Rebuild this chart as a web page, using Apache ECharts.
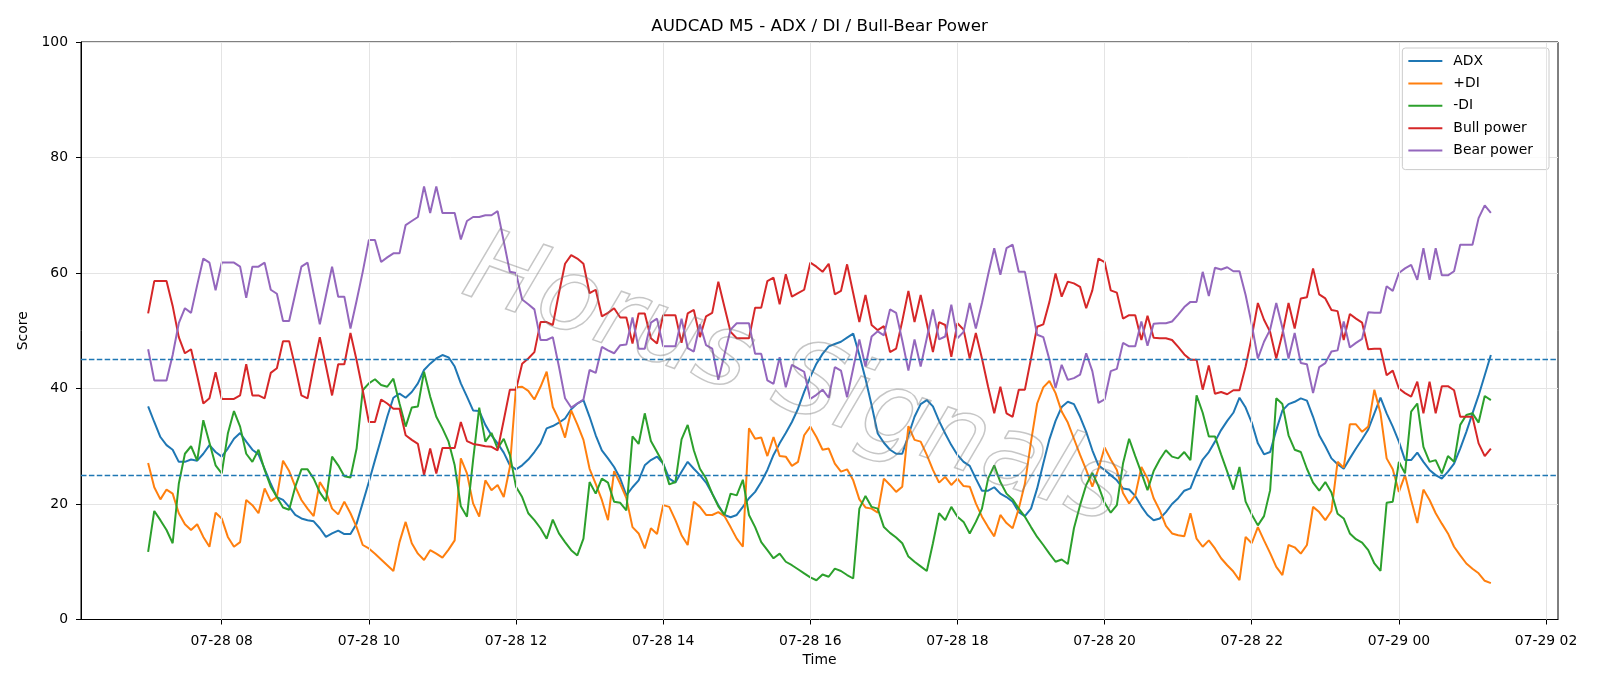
<!DOCTYPE html>
<html><head><meta charset="utf-8">
<script src="https://cdn.jsdelivr.net/npm/echarts@6/dist/echarts.min.js"></script>
<style>html,body{margin:0;padding:0;background:#fff}#chart{width:1600px;height:686px}</style>
</head><body><div id="chart"></div>
<script>
// Time grid: M5 bars from 07-28 07:00, minutes since 07-28 00:00
const START_MINUTE = 420;
const STEP_MINUTES = 5;

const adx = [36.9,34.2,31.6,30.2,29.4,27.3,27.3,27.7,27.5,28.7,30.2,29.0,28.2,29.6,31.3,32.3,30.8,29.4,28.6,26.1,
23.5,21.2,20.7,19.5,18.1,17.5,17.2,17.0,15.8,14.3,14.9,15.4,14.8,14.8,16.6,20.2,23.8,27.6,31.3,35.1,
38.4,39.1,38.4,39.4,40.9,43.2,44.3,45.2,45.8,45.4,43.8,40.9,38.6,36.2,36.1,33.7,31.9,30.5,28.9,26.7,
26.0,26.7,27.7,29.0,30.5,33.1,33.5,34.1,34.8,36.4,37.4,38.0,35.1,31.9,29.3,27.9,26.4,24.4,21.5,22.9,
24.1,26.7,27.6,28.2,27.0,24.4,23.7,25.6,27.3,26.1,25.0,23.7,21.8,19.8,18.1,17.7,18.1,19.5,21.0,22.1,
23.8,25.9,28.5,30.5,32.3,34.2,36.5,39.4,42.0,44.3,46.0,47.3,47.7,48.1,48.8,49.5,45.8,41.7,37.1,32.2,
30.6,29.4,28.7,28.7,31.9,35.1,37.3,38.0,36.9,34.4,32.2,30.2,28.5,27.3,26.6,24.4,22.3,22.3,22.9,21.8,
21.2,20.4,18.6,17.9,19.2,22.7,27.0,31.2,34.4,36.8,37.7,37.3,35.1,32.5,29.3,26.7,25.9,25.0,24.1,22.7,
22.5,21.4,19.6,18.1,17.2,17.5,18.6,20.0,21.0,22.3,22.7,25.4,27.7,29.0,30.8,32.8,34.4,35.8,38.4,36.7,
34.1,30.5,28.6,29.0,32.8,36.2,37.3,37.7,38.3,37.9,35.1,31.9,30.0,27.9,26.9,26.1,27.9,29.6,31.2,32.9,
35.7,38.4,35.7,33.4,30.8,27.6,27.6,28.9,27.3,25.9,25.0,24.4,25.6,27.0,29.6,32.5,35.7,38.8,42.3,45.8];

const plusDI = [27.1,22.9,20.8,22.5,21.8,18.4,16.5,15.5,16.5,14.3,12.6,18.5,17.5,14.3,12.6,13.4,20.7,19.8,18.4,22.7,
20.5,21.2,27.5,25.7,23.0,20.7,19.2,17.9,23.8,22.1,19.2,18.2,20.4,18.4,16.0,12.9,12.3,11.4,10.4,9.4,
8.4,13.4,16.9,13.2,11.4,10.3,12.0,11.4,10.7,12.1,13.7,27.9,25.3,20.1,17.8,24.1,22.4,23.3,21.2,26.4,
40.2,40.3,39.6,38.1,40.3,42.9,36.8,34.6,31.5,36.2,33.8,31.1,26.1,23.5,20.7,17.2,25.7,23.5,21.0,16.0,
14.9,12.3,15.8,14.8,19.8,19.5,17.2,14.6,12.9,20.4,19.5,18.1,18.1,18.6,17.9,16.0,14.0,12.6,33.1,31.3,
31.5,28.3,31.6,28.3,28.2,26.6,27.3,31.9,33.4,31.6,29.4,29.6,27.0,25.6,26.0,24.1,20.8,19.4,19.2,18.5,
24.4,23.3,22.1,23.0,33.5,31.1,30.8,28.5,25.9,23.7,24.7,23.3,24.4,23.1,23.0,20.1,17.8,16.0,14.4,18.1,
16.7,15.8,19.2,23.5,30.8,37.4,40.2,41.3,39.2,36.0,34.1,31.3,28.5,25.9,23.0,26.1,29.8,27.7,25.9,21.9,
20.1,21.5,26.4,24.4,21.0,18.9,16.2,14.9,14.6,14.4,18.4,14.0,12.6,13.7,12.3,10.6,9.4,8.3,6.8,14.3,
13.2,16.0,13.7,11.5,9.1,7.7,12.9,12.5,11.4,12.9,19.5,18.6,17.2,18.8,27.3,26.3,33.8,33.8,32.5,33.4,
39.8,35.7,27.9,26.0,22.1,25.0,20.7,16.7,22.5,20.7,18.4,16.6,14.9,12.6,11.1,9.7,8.8,8.0,6.7,6.3];

const minusDI = [11.7,18.8,17.2,15.5,13.2,23.5,28.7,30.0,27.5,34.5,30.6,26.7,25.3,32.2,36.1,33.4,28.7,27.3,29.4,25.9,
23.0,21.2,19.4,19.0,23.0,26.0,26.0,24.4,22.0,20.5,28.2,26.7,24.8,24.6,29.6,39.7,40.9,41.6,40.6,40.3,
41.7,37.4,33.4,36.7,36.9,42.9,38.6,35.1,33.1,30.8,26.7,19.6,17.8,27.6,36.7,30.8,32.3,29.6,31.3,28.5,
23.0,21.2,18.4,17.2,15.8,14.0,17.3,14.9,13.4,12.0,11.1,14.0,23.8,21.8,24.4,23.7,20.4,20.2,18.9,31.7,
30.4,35.7,30.9,29.0,27.0,23.4,23.8,31.2,33.7,29.3,26.1,24.4,21.8,19.6,18.1,21.8,21.5,24.2,18.1,16.0,
13.4,12.0,10.6,11.4,10.0,9.4,8.7,8.0,7.3,6.8,7.8,7.4,8.8,8.4,7.7,7.1,19.2,21.4,19.5,19.2,
16.0,15.0,14.2,13.2,10.9,10.0,9.2,8.4,13.2,18.4,17.2,19.5,17.8,16.9,14.9,16.9,19.2,24.4,26.7,23.8,
21.8,20.8,19.2,17.8,16.0,14.3,12.9,11.4,10.0,10.4,9.6,15.8,19.8,23.3,25.4,23.1,20.2,18.5,19.8,27.0,
31.3,28.3,25.4,22.4,25.7,27.7,29.3,28.2,27.9,29.0,27.6,38.8,35.8,31.7,31.7,28.6,25.6,22.5,26.4,20.4,
18.2,16.3,17.9,22.4,38.3,37.3,31.9,29.4,29.0,26.1,23.7,22.3,23.8,22.0,18.3,17.5,14.9,13.9,13.3,12.0,
9.7,8.4,20.2,20.4,27.3,25.3,36.0,37.4,29.9,27.3,27.6,25.3,28.3,27.3,33.7,35.4,35.7,34.1,38.7,38.0];

const bullPower = [53.0,58.6,58.6,58.6,54.3,48.9,46.1,46.8,42.2,37.4,38.3,42.8,38.2,38.2,38.2,38.8,44.2,38.8,38.8,38.3,
42.7,43.5,48.2,48.2,43.7,38.8,38.3,43.8,48.9,43.9,38.8,44.2,44.2,49.6,44.9,39.7,34.2,34.2,38.1,37.4,
36.5,36.5,31.9,31.1,30.4,25.0,29.6,25.3,29.7,29.7,29.7,34.2,30.9,30.4,30.2,30.0,29.9,29.3,34.5,39.8,
39.8,44.3,45.2,46.3,51.5,51.5,51.0,56.5,61.6,63.1,62.5,61.6,56.5,57.1,52.5,53.1,53.9,52.3,52.3,47.8,
53.0,53.0,48.7,47.8,52.7,52.7,52.7,47.9,53.0,53.6,48.9,52.5,53.1,58.5,54.1,49.8,48.7,48.7,48.7,54.0,
54.0,58.6,59.2,54.6,59.8,55.9,56.5,57.1,61.8,61.1,60.2,61.6,56.3,56.9,61.5,56.5,51.5,56.2,51.0,50.1,
50.8,46.3,46.9,51.7,56.9,51.5,56.2,51.3,46.3,51.5,51.0,45.5,51.3,50.2,45.2,49.6,45.2,40.3,35.7,40.3,
35.7,35.1,39.8,39.8,45.2,50.7,51.1,55.0,59.9,55.9,58.5,58.2,57.6,53.9,57.0,62.5,61.9,57.0,56.6,52.1,
52.7,52.7,48.4,52.6,48.8,48.7,48.7,48.4,47.2,45.9,45.0,45.0,39.8,44.0,39.1,39.4,39.0,39.7,39.7,43.8,
48.9,54.8,51.9,49.8,45.2,49.5,54.8,50.4,55.6,55.8,60.8,56.3,55.6,53.6,53.4,48.4,52.9,52.1,51.4,46.8,
46.9,46.9,42.3,43.1,40.0,39.2,38.6,41.2,35.7,41.2,35.7,40.4,40.4,39.7,35.1,35.1,35.1,30.5,28.3,29.6];

const bearPower = [46.8,41.4,41.4,41.4,45.8,51.3,53.9,53.1,57.9,62.5,61.8,57.0,61.8,61.8,61.8,61.1,55.7,61.1,61.1,61.8,
57.1,56.4,51.7,51.7,56.4,61.1,61.8,56.4,51.1,56.1,61.1,55.9,55.9,50.4,55.2,60.2,65.7,65.7,61.9,62.7,
63.4,63.4,68.3,69.0,69.7,75.0,70.4,75.0,70.4,70.4,70.4,65.8,69.0,69.7,69.7,70.0,70.0,70.7,65.5,60.2,
60.0,55.4,54.6,53.7,48.4,48.4,48.9,43.8,38.3,36.7,37.4,38.1,43.2,42.7,47.2,46.6,46.1,47.5,47.6,52.3,
46.9,46.9,51.4,52.1,47.3,47.3,47.3,52.1,47.0,46.4,51.1,47.5,46.9,41.5,45.9,50.2,51.3,51.3,51.3,46.0,
46.0,41.4,40.8,45.4,40.2,44.1,43.5,42.9,38.2,38.9,39.8,38.4,43.7,43.1,38.5,43.5,48.5,43.8,49.0,49.9,
49.2,53.7,53.1,48.3,43.1,48.5,43.8,48.7,53.7,48.5,49.0,54.5,48.7,49.8,54.8,50.4,54.8,59.7,64.3,59.7,
64.3,64.9,60.2,60.2,54.8,49.3,48.9,45.0,40.1,44.1,41.5,41.8,42.4,46.1,43.0,37.5,38.1,43.0,43.4,47.9,
47.3,47.3,51.6,47.4,51.2,51.3,51.3,51.6,52.8,54.1,55.0,55.0,60.2,56.0,60.9,60.6,61.0,60.3,60.3,56.2,
51.1,45.2,48.1,50.2,54.8,50.5,45.2,49.6,44.4,44.2,39.2,43.7,44.4,46.4,46.6,51.6,47.1,47.9,48.6,53.2,
53.1,53.1,57.7,56.9,60.0,60.8,61.4,58.8,64.3,58.8,64.3,59.6,59.6,60.3,64.9,64.9,64.9,69.5,71.7,70.4];

// Axis ticks (minutes since 07-28 00:00) and their labels
const xTicks = [480, 600, 720, 840, 960, 1080, 1200, 1320, 1440, 1560];
const xTickLabels = ['07-28 08','07-28 10','07-28 12','07-28 14','07-28 16','07-28 18','07-28 20','07-28 22','07-29 00','07-29 02'];
const thresholds = [45, 25];
const seriesNames = ['ADX', '+DI', '-DI', 'Bull power', 'Bear power'];
const seriesColors = ['#1f77b4', '#ff7f0e', '#2ca02c', '#d62728', '#9467bd'];
const seriesValues = [adx, plusDI, minusDI, bullPower, bearPower];

const times = adx.map((_, i) => START_MINUTE + STEP_MINUTES * i);
const X_MIN = 365.25, X_MAX = 1569.75;

const FONT = 'DejaVu Sans';
const chart = echarts.init(document.getElementById('chart'));

const lineSeries = seriesNames.map((name, k) => ({
  name: name,
  type: 'line',
  data: seriesValues[k].map((v, i) => [times[i], v]),
  symbol: 'none',
  showSymbol: false,
  lineStyle: { color: seriesColors[k], width: 2 },
  itemStyle: { color: seriesColors[k] },
  emphasis: { disabled: true },
  z: 3
}));

const option = {
  animation: false,
  backgroundColor: '#fff',
  textStyle: { fontFamily: FONT },
  title: {
    text: 'AUDCAD M5 - ADX / DI / Bull-Bear Power',
    left: 819.5, top: 18, padding: 0, textAlign: 'center',
    textStyle: { fontFamily: FONT, fontSize: 16.7, fontWeight: 'normal', color: '#000' }
  },
  grid: {
    left: 81, right: 42, top: 42, bottom: 66.5,
    show: true, borderColor: '#000', borderWidth: 1, backgroundColor: 'transparent'
  },
  legend: {
    data: seriesNames,
    orient: 'vertical',
    right: 51, top: 48,
    itemWidth: 34, itemHeight: 14, itemGap: 8.4,
    padding: [6, 16, 12, 5],
    itemStyle: { opacity: 0 },
    backgroundColor: 'rgba(255,255,255,0.8)',
    borderColor: '#cccccc', borderWidth: 1, borderRadius: 3,
    textStyle: { fontFamily: FONT, fontSize: 13.9, color: '#000', padding: [0, 0, 0, 6] }
  },
  xAxis: {
    type: 'value', min: X_MIN, max: X_MAX,
    name: 'Time', nameLocation: 'middle', nameGap: 30,
    nameTextStyle: { fontFamily: FONT, fontSize: 13.9, color: '#000' },
    axisLine: { show: true, lineStyle: { color: '#000', width: 1 } },
    axisTick: { show: true, length: 5, lineStyle: { color: '#000', width: 1 }, customValues: xTicks },
    axisLabel: {
      customValues: xTicks, margin: 15,
      fontFamily: FONT, fontSize: 13.9, color: '#000',
      formatter: v => { const k = xTicks.indexOf(v); return k >= 0 ? xTickLabels[k] : ''; }
    },
    splitLine: { show: false }
  },
  yAxis: {
    type: 'value', min: 0, max: 100, interval: 20,
    name: 'Score', nameLocation: 'middle', nameGap: 44,
    nameTextStyle: { fontFamily: FONT, fontSize: 13.9, color: '#000' },
    axisLine: { show: true, lineStyle: { color: '#000', width: 1 } },
    axisTick: { show: true, length: 5, lineStyle: { color: '#000', width: 1 } },
    axisLabel: { margin: 13, fontFamily: FONT, fontSize: 13.9, color: '#000' },
    splitLine: { show: true, lineStyle: { color: '#e4e4e4', width: 1 } }
  },
  graphic: [{
    type: 'text', x: 794, y: 383, rotation: -0.34, silent: true, z: 50,
    style: {
      text: 'Horus Signals', fontSize: 101, fontFamily: FONT, fontStyle: 'italic',
      fill: 'rgba(0,0,0,0)', stroke: 'rgba(120,120,120,0.42)', lineWidth: 1.5,
      align: 'center', verticalAlign: 'middle', textAlign: 'center', textVerticalAlign: 'middle'
    }
  }],
  series: [
    {
      name: '_vgrid', type: 'line', data: [], silent: true, z: 1,
      markLine: {
        silent: true, symbol: ['none', 'none'], label: { show: false }, animation: false,
        lineStyle: { color: '#e4e4e4', width: 1, type: 'solid' },
        emphasis: { disabled: true },
        data: xTicks.map(v => ({ xAxis: v }))
      }
    },
    ...lineSeries,
    {
      name: '_thresholds', type: 'line', data: [], silent: true, z: 4,
      markLine: {
        silent: true, symbol: ['none', 'none'], label: { show: false }, animation: false,
        lineStyle: { color: '#1f77b4', width: 1.4, type: [5.5, 2.4] },
        emphasis: { disabled: true },
        data: thresholds.map(v => ({ yAxis: v }))
      }
    }
  ]
};
chart.setOption(option);
</script>
</body></html>
